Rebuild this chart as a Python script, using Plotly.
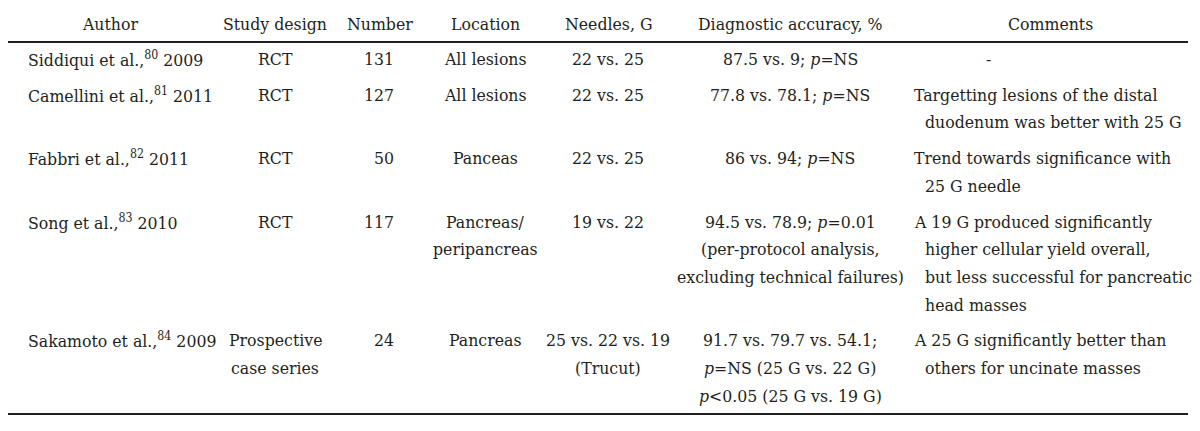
import plotly.graph_objects as go

# ---------------- data ----------------
headers = ["Author", "Study design", "Number", "Location", "Needles, G",
           "Diagnostic accuracy, %", "Comments"]

authors = ["Siddiqui et al.,<sup>80</sup> 2009",
           "Camellini et al.,<sup>81</sup> 2011",
           "Fabbri et al.,<sup>82</sup> 2011",
           "Song et al.,<sup>83</sup> 2010",
           "Sakamoto et al.,<sup>84</sup> 2009"]

study_design = [["RCT"], ["RCT"], ["RCT"], ["RCT"], ["Prospective", "case series"]]

numbers = [131, 127, 50, 117, 24]

location = [["All lesions"], ["All lesions"], ["Panceas"],
            ["Pancreas/", "peripancreas"], ["Pancreas"]]

needles = [["22 vs. 25"], ["22 vs. 25"], ["22 vs. 25"], ["19 vs. 22"],
           ["25 vs. 22 vs. 19", "(Trucut)"]]

accuracy = [["87.5 vs. 9; <i>p</i>=NS"],
            ["77.8 vs. 78.1; <i>p</i>=NS"],
            ["86 vs. 94; <i>p</i>=NS"],
            ["94.5 vs. 78.9; <i>p</i>=0.01", "(per-protocol analysis,",
             "excluding technical failures)"],
            ["91.7 vs. 79.7 vs. 54.1;", "<i>p</i>=NS (25 G vs. 22 G)",
             "<i>p</i>&lt;0.05 (25 G vs. 19 G)"]]

comments = [["-"],
            ["Targetting lesions of the distal", "duodenum was better with 25 G"],
            ["Trend towards significance with", "25 G needle"],
            ["A 19 G produced significantly", "higher cellular yield overall,",
             "but less successful for pancreatic", "head masses"],
            ["A 25 G significantly better than", "others for uncinate masses"]]

# ---------------- layout / style ----------------
W, H = 1200, 431
PAGE_MARGIN = 8  # default body margin of the html page
FAMILY = "DejaVu Serif Condensed, DejaVu Serif"
FONT = dict(family=FAMILY, size=17.5, color="#231f20")
header_y = 24
rule_top, rule_head, rule_bottom = 6, 42, 414
first_line_y = 59
pitch = 27.7
row_gap = 8

header_x = [110, 275, 380, 485, 608, 790, 1050]
author_x = 26
design_x = 275
number_x = 396
location_x = 485
needles_x = 608
accuracy_x = 790
comment_x = 912
comment_indent = 11
dash_x = 988

annotations = []

def add(text, x, y, anchor):
    annotations.append(dict(text=text, x=x, y=y, xref="x", yref="y",
                            xanchor=anchor, yanchor="middle", showarrow=False,
                            font=FONT))

for h, hx in zip(headers, header_x):
    add(h, hx, header_y, "center")

y0 = first_line_y
for i in range(len(authors)):
    nlines = max(1, len(study_design[i]), len(location[i]), len(needles[i]),
                 len(accuracy[i]), len(comments[i]))
    add(authors[i], author_x, y0, "left")
    add(str(numbers[i]), number_x, y0, "right")
    for k, t in enumerate(study_design[i]):
        add(t, design_x, y0 + k * pitch, "center")
    for k, t in enumerate(location[i]):
        add(t, location_x, y0 + k * pitch, "center")
    for k, t in enumerate(needles[i]):
        add(t, needles_x, y0 + k * pitch, "center")
    for k, t in enumerate(accuracy[i]):
        add(t, accuracy_x, y0 + k * pitch, "center")
    for k, t in enumerate(comments[i]):
        if t == "-":
            add(t, dash_x, y0, "center")
        else:
            add(t, comment_x + (comment_indent if k > 0 else 0), y0 + k * pitch, "left")
    y0 += nlines * pitch + row_gap

shapes = []
for yy, lw in [(rule_top, 2), (rule_head, 2), (rule_bottom, 2)]:
    shapes.append(dict(type="line", xref="x", yref="y", x0=3, x1=1188, y0=yy, y1=yy,
                       line=dict(color="#231f20", width=lw)))

fig = go.Figure()
fig.update_layout(
    width=W - PAGE_MARGIN, height=H - PAGE_MARGIN,
    margin=dict(l=0, r=0, t=0, b=0),
    font=dict(family=FAMILY, size=17.5, color="#231f20"),
    paper_bgcolor="white", plot_bgcolor="white",
    xaxis=dict(range=[PAGE_MARGIN, W], visible=False, fixedrange=True),
    yaxis=dict(range=[H, PAGE_MARGIN], visible=False, fixedrange=True),
    annotations=annotations, shapes=shapes,
    showlegend=False,
)
fig.write_html("out.html")
